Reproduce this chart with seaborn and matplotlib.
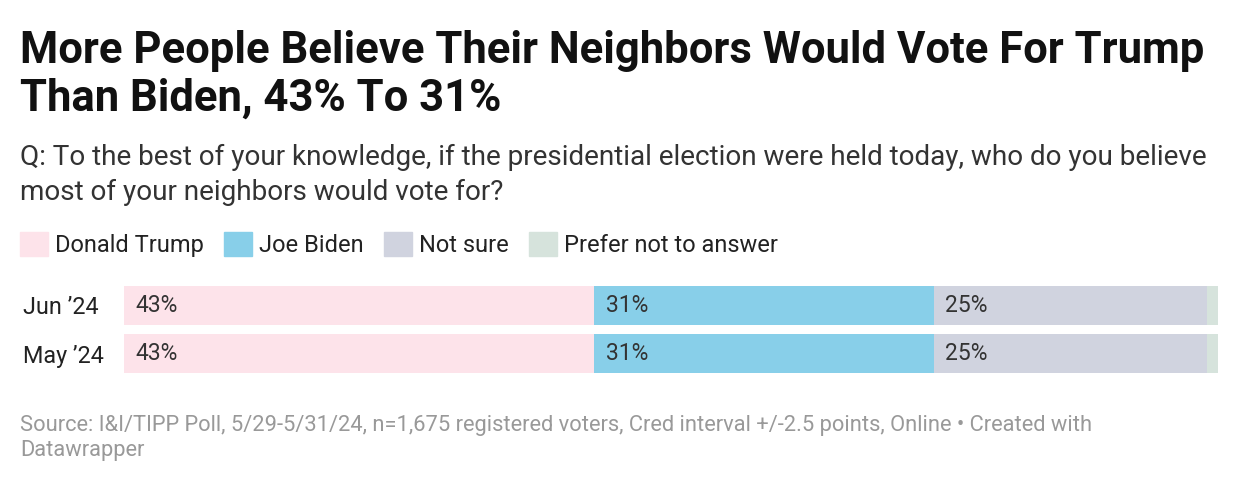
import matplotlib.pyplot as plt
import matplotlib.patches as mpatches
import pandas as pd
import seaborn as sns

sns.set_theme(style="white")
plt.rcParams["font.family"] = ["Roboto", "DejaVu Sans"]

periods = ["Jun ’24", "May ’24"]
answers = ["Donald Trump", "Joe Biden", "Not sure", "Prefer not to answer"]
trump = [43, 43]
biden = [31, 31]
not_sure = [25, 25]
prefer_not = [1, 1]
colors = ["#fde3ea", "#88cfe9", "#d0d3df", "#d6e3dc"]

title = "More People Believe Their Neighbors Would Vote For Trump\nThan Biden, 43% To 31%"
subtitle = ("Q: To the best of your knowledge, if the presidential election were held today, who do you believe\n"
            "most of your neighbors would vote for?")
source = ("Source: I&I/TIPP Poll, 5/29-5/31/24, n=1,675 registered voters, Cred interval +/-2.5 points, Online • Created with\n"
          "Datawrapper")

df = pd.DataFrame({"period": periods, "Donald Trump": trump, "Joe Biden": biden,
                   "Not sure": not_sure, "Prefer not to answer": prefer_not})
# cumulative sums so the stacked look comes from overdrawing
cum = df[answers].cumsum(axis=1)

fig = plt.figure(figsize=(12.4, 4.88), dpi=100)
ax = fig.add_axes([124 / 1240, 110.5 / 488, 1094 / 1240, 96 / 488])

for ans, col in reversed(list(zip(answers, colors))):
    sns.barplot(x=cum[ans], y=df["period"], orient="y", color=col, width=0.81,
                saturation=1, linewidth=0, ax=ax)

# value labels at the start of each segment
for i, p in enumerate(periods):
    start = 0
    for ans in answers[:3]:
        v = df.loc[i, ans]
        ax.annotate(f"{v}%", (start, i), xytext=(8.5, 0), textcoords="offset points",
                    va="center", ha="left", fontsize=16.5, color="#333333")
        start += v

ax.set_xlim(0, 100)
ax.set_ylim(1.5, -0.5)
ax.set_xlabel("")
ax.set_ylabel("")
ax.set_xticks([])
ax.tick_params(axis="y", length=0, pad=73, labelsize=16.8, labelcolor="#222222")
for lab in ax.get_yticklabels():
    lab.set_horizontalalignment("left")
sns.despine(ax=ax, left=True, bottom=True)

fig.text(20 / 1240, 1 - 30 / 488, title, fontsize=31.4, fontweight="bold",
         color="#111111", va="top", ha="left", linespacing=1.18)
fig.text(20 / 1240, 1 - 144 / 488, subtitle, fontsize=20.1, color="#333333",
         va="top", ha="left", linespacing=1.36)

handles = [mpatches.Patch(color=c, label=a) for a, c in zip(answers, colors)]
fig.legend(handles=handles, loc="upper left", bbox_to_anchor=(20 / 1240, 1 - 232 / 488),
           ncol=4, frameon=False, fontsize=17, borderaxespad=0, borderpad=0,
           handlelength=1.19, handleheight=1.19, handletextpad=0.3,
           columnspacing=0.85, labelcolor="#222222")

fig.text(20 / 1240, 1 - 415 / 488, source, fontsize=15.75, color="#999999",
         va="top", ha="left", linespacing=1.25)

fig.savefig("out.png", dpi=100)
